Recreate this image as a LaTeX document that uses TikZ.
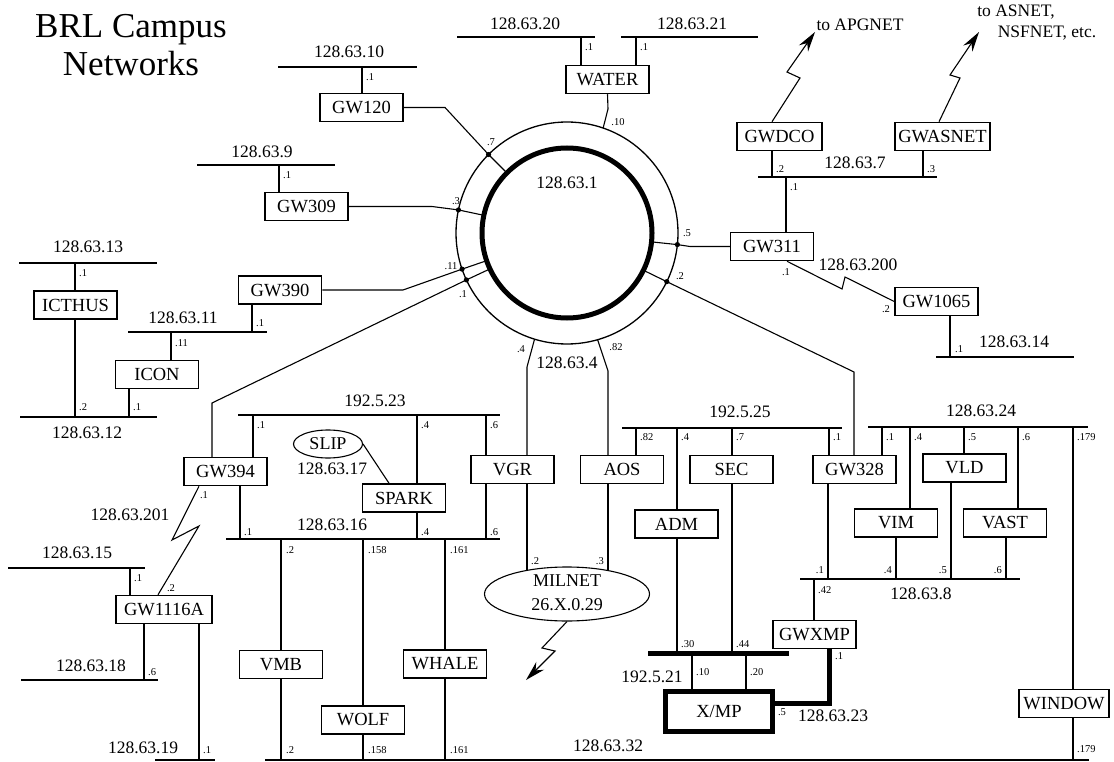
\documentclass[tikz,border=0pt]{standalone}
\usepackage{fontspec}
\setmainfont{Liberation Serif}
\usetikzlibrary{shapes.geometric, arrows.meta, calc}

\newcommand{\setfs}[1]{\fontsize{#1}{#1}\selectfont}

\begin{document}
\begin{tikzpicture}[x=1pt, y=-1pt,
    host/.style={draw, line width=1.5pt, minimum width=83pt, minimum height=28pt, inner sep=0pt, font=\setfs{18.5}},
    bus/.style={line width=2pt},
    link/.style={line width=1.1pt},
    fat/.style={line width=5pt},
    net/.style={font=\setfs{17.5}, inner sep=0pt},
    addr/.style={font=\setfs{10.5}, inner sep=0pt},
    zap/.style={line width=1.1pt, -{Stealth[length=20pt, width=11pt]}}]
    \fill[white] (0,0) rectangle (1114,762);
    \useasboundingbox (0,0) rectangle (1114,762);

    % Title
    \node[font=\fontsize{35}{38}\selectfont, align=center, inner sep=0pt] (title) at (131,45) {BRL Campus\\Networks};

    % Backbone ring 128.63.1
    \node[circle, draw, line width=1.3pt, minimum size=222pt, inner sep=0pt, outer sep=0pt] (ring) at (567,233) {};
    \node[circle, draw, line width=5pt, minimum size=170pt, inner sep=0pt, outer sep=0pt] (core) at (567,233) {};
    \node[net] (t1) at (567,183) {128.63.1};
    \node[net] (t4) at (567,363) {128.63.4};

    % Hosts and gateways
    \node[host] (gw120) at (361.5,107.5) {GW120};
    \node[host] (gw309) at (306.5,206.5) {GW309};
    \node[host] (water) at (607.5,79.5) {WATER};
    \node[host, minimum width=85pt] (gwdco) at (779.5,136.5) {GWDCO};
    \node[host, minimum width=95pt] (gwasnet) at (942.5,136.5) {GWASNET};
    \node[host] (gw311) at (772,246.5) {GW311};
    \node[host] (gw1065) at (936.5,301.5) {GW1065};
    \node[host] (icthus) at (75.5,305) {ICTHUS};
    \node[host] (icon) at (157,374.5) {ICON};
    \node[host] (gw390) at (280,290) {GW390};
    \node[host] (gw394) at (225.5,471.5) {GW394};
    \node[host] (spark) at (404,498) {SPARK};
    \node[host] (vgr) at (512.5,469.5) {VGR};
    \node[host] (aos) at (622,469.5) {AOS};
    \node[host] (sec) at (731.5,469.5) {SEC};
    \node[host] (adm) at (676.5,524) {ADM};
    \node[host] (gw328) at (854.5,469.5) {GW328};
    \node[host] (vld) at (964.5,468) {VLD};
    \node[host] (vim) at (896,523) {VIM};
    \node[host] (vast) at (1005,523) {VAST};
    \node[host, minimum width=90pt] (window) at (1064,703.5) {WINDOW};
    \node[host] (gwxmp) at (814.5,634.5) {GWXMP};
    \node[host, line width=5pt, minimum width=107pt, minimum height=40pt] (xmp) at (719,711) {X/MP};
    \node[host, minimum width=96pt] (gw1116a) at (164,609.5) {GW1116A};
    \node[host] (vmb) at (281,664.5) {VMB};
    \node[host] (wolf) at (363,720) {WOLF};
    \node[host] (whale) at (445,664) {WHALE};
    \node[ellipse, draw, line width=1.1pt, minimum width=69pt, minimum height=28pt, inner sep=0pt, font=\setfs{18}] (slip) at (328,444) {SLIP};
    \node[ellipse, draw, line width=1.1pt, minimum width=165pt, minimum height=54pt, inner sep=0pt] (milnet) at (567,594) {};
    \node[font=\fontsize{18}{24}\selectfont, align=center, inner sep=0pt] (miltxt) at (567,593) {MILNET\\26.X.0.29};

    % Taps on the ring
    \draw[link] (core.135) -- (ring.135) -- (445,0 |- gw120.east) -- (gw120.east);
    \draw[link] (core.168) -- (ring.168) -- (432,0 |- gw309.east) -- (gw309.east);
    \draw[link] (core.199) -- (ring.199) -- (403,0 |- gw390.east) -- (gw390.east);
    \draw[link] (core.205) -- (ring.205) -- (212,403) -- (212,0 |- gw394.north);
    \draw[link] (core.334) -- (ring.334) -- (854,372) -- (854,0 |- gw328.north);
    \draw[link] (core.354) -- (ring.354) -- (690,0 |- gw311.west) -- (gw311.west);
    \draw[link] (water.south) -- (608,109) -- (ring.71);
    \draw[link] (ring.253) -- (527,367) -- (527,0 |- vgr.north);
    \draw[link] (ring.286) -- (608,371) -- (608,0 |- aos.north);
    \foreach \a in {135,168,199,205,334,354} \fill (ring.\a) circle (2.6pt);
    \node[addr] (r7) at (491,142) {.7};
    \node[addr] (r3) at (456,201) {.3};
    \node[addr] (r10) at (618,122) {.10};
    \node[addr] (r5) at (687,233) {.5};
    \node[addr] (r11) at (451,266) {.11};
    \node[addr] (r1) at (463,294) {.1};
    \node[addr] (r2) at (680,276) {.2};
    \node[addr] (r4) at (521,349) {.4};
    \node[addr] (r82) at (616,347) {.82};

    % 128.63.10, 128.63.9
    \draw[bus] (278,67) -- (417,67);
    \node[net] (t10) at (349,52) {128.63.10};
    \draw[link] (362,67) -- (362,0 |- gw120.north);
    \node[addr, anchor=west] (a10) at (366,77) {.1};
    \draw[bus] (197,165) -- (335,165);
    \node[net] (t9) at (262,152) {128.63.9};
    \draw[link] (279,165) -- (279,0 |- gw309.north);
    \node[addr, anchor=west] (a9) at (283,175) {.1};

    % 128.63.20, 128.63.21
    \draw[bus] (457,37) -- (595,37);
    \node[net] (t20) at (525,24) {128.63.20};
    \draw[bus] (621,37) -- (758,37);
    \node[net] (t21) at (692,24) {128.63.21};
    \draw[link] (581,37) -- (581,0 |- water.north);
    \draw[link] (636,37) -- (636,0 |- water.north);
    \node[addr, anchor=west] (a20) at (585,47) {.1};
    \node[addr, anchor=west] (a21) at (640,47) {.1};

    % 128.63.7 and the outside links
    \draw[bus] (758,177) -- (937,177);
    \node[net] (t7) at (855,163) {128.63.7};
    \draw[link] (772,0 |- gwdco.south) -- (772,177);
    \draw[link] (923,0 |- gwasnet.south) -- (923,177);
    \draw[link] (786,177) -- (786,0 |- gw311.north);
    \node[addr, anchor=west] (a7a) at (776,169) {.2};
    \node[addr, anchor=west] (a7b) at (927,169) {.3};
    \node[addr, anchor=west] (a7c) at (790,187) {.1};
    \draw[zap] (772,0 |- gwdco.north) -- (800,78) -- (787,72) -- (815,32);
    \draw[zap] (939,0 |- gwasnet.north) -- (960,78) -- (950,75) -- (979,32);
    \node[net] (apg) at (860,25) {to APGNET};
    \node[net] (asn) at (1016,12) {to ASNET,};
    \node[net] (nsf) at (1047,33) {NSFNET, etc.};

    % 128.63.200, 128.63.14
    \draw[link] (787,0 |- gw311.south) -- (842,289) -- (845,277) -- (gw1065.west);
    \node[net] (t200) at (858,265) {128.63.200};
    \node[addr] (b1) at (786,272) {.1};
    \node[addr] (b2) at (886,309) {.2};
    \draw[bus] (936,357) -- (1074,357);
    \node[net] (t14) at (1014,342) {128.63.14};
    \draw[link] (950,0 |- gw1065.south) -- (950,357);
    \node[addr, anchor=west] (a14) at (955,349) {.1};

    % 128.63.13, 128.63.12, 128.63.11
    \draw[bus] (19,263) -- (157,263);
    \node[net] (t13) at (88,247) {128.63.13};
    \draw[link] (75,263) -- (75,0 |- icthus.north);
    \node[addr, anchor=west] (a13) at (79,273) {.1};
    \draw[bus] (20,417) -- (157,417);
    \node[net] (t12) at (87,433) {128.63.12};
    \draw[link] (75,0 |- icthus.south) -- (75,417);
    \draw[link] (129,0 |- icon.south) -- (129,417);
    \node[addr, anchor=west] (a12a) at (79,407) {.2};
    \node[addr, anchor=west] (a12b) at (133,407) {.1};
    \draw[bus] (128,332) -- (267,332);
    \node[net] (t11) at (183,318) {128.63.11};
    \draw[link] (171,332) -- (171,0 |- icon.north);
    \draw[link] (252,0 |- gw390.south) -- (252,332);
    \node[addr, anchor=west] (a11a) at (175,343) {.11};
    \node[addr, anchor=west] (a11b) at (256,323) {.1};

    % 192.5.23 and 128.63.16
    \draw[bus] (238,415) -- (500,415);
    \node[net] (t23) at (375,401) {192.5.23};
    \foreach \x/\n/\t in {253/gw394/.1, 417/spark/.4, 486/vgr/.6} {
        \draw[link] (\x,415) -- (\x,0 |- \n.north);
        \node[addr, anchor=west] (u\x) at (\x+4,425) {\t};
    }
    \draw[link] (slip.east) -- (389,0 |- spark.north);
    \node[net] (t17) at (332,469) {128.63.17};
    \draw[bus] (226,539) -- (500,539);
    \node[net] (t16) at (332,525) {128.63.16};
    \foreach \x/\n/\t in {240/gw394/.1, 417/spark/.4, 486/vgr/.6} {
        \draw[link] (\x,0 |- \n.south) -- (\x,539);
        \node[addr, anchor=west] (v\x) at (\x+4,532) {\t};
    }
    \foreach \x/\n/\t in {281/vmb/.2, 363/wolf/.158, 445/whale/.161} {
        \draw[link] (\x,539) -- (\n) -- (\x,760);
        \node[addr, anchor=west] (w\x) at (\x+5,550) {\t};
        \node[addr, anchor=west] (z\x) at (\x+5,750) {\t};
    }

    % 128.63.201 and GW1116A
    \draw[link] (199,0 |- gw394.south) -- (172,540) -- (199,526) -- (158,0 |- gw1116a.north);
    \node[net] (t201) at (130,515) {128.63.201};
    \node[addr] (c1) at (204,495) {.1};
    \node[addr] (c2) at (171,588) {.2};
    \draw[bus] (8,568) -- (145,568);
    \node[net] (t15) at (77,553) {128.63.15};
    \draw[link] (130,568) -- (130,0 |- gw1116a.north);
    \node[addr, anchor=west] (f15) at (134,578) {.1};
    \draw[bus] (21,680) -- (158,680);
    \node[net] (t18) at (91,666) {128.63.18};
    \draw[link] (144,0 |- gw1116a.south) -- (144,680);
    \node[addr, anchor=west] (f18) at (148,672) {.6};
    \draw[bus] (155,760) -- (215,760);
    \node[net] (t19) at (143,748) {128.63.19};
    \draw[link] (199,0 |- gw1116a.south) -- (199,760);
    \node[addr, anchor=west] (f19) at (203,750) {.1};

    % MILNET
    \draw[link] (527,0 |- vgr.south) -- (527,0 |- milnet.149);
    \draw[link] (608,0 |- aos.south) -- (608,0 |- milnet.31);
    \node[addr, anchor=west] (m2) at (531,561) {.2};
    \node[addr, anchor=east] (m3) at (604,561) {.3};
    \draw[zap] (milnet.south) -- (542,648) -- (555,651) -- (526,680);

    % 192.5.25
    \draw[bus] (622,428) -- (842,428);
    \node[net] (t25) at (740,412) {192.5.25};
    \foreach \x/\n/\t in {636/aos/.82, 677/adm/.4, 732/sec/.7, 829/gw328/.1} {
        \draw[link] (\x,428) -- (\x,0 |- \n.north);
        \node[addr, anchor=west] (s\x) at (\x+4,437) {\t};
    }

    % 128.63.24
    \draw[bus] (868,427) -- (1088,427);
    \node[net] (t24) at (981,411) {128.63.24};
    \foreach \x/\n/\t in {882/gw328/.1, 910/vim/.4, 964/vld/.5, 1018/vast/.6, 1073/window/.179} {
        \draw[link] (\x,427) -- (\x,0 |- \n.north);
        \node[addr, anchor=west] (k\x) at (\x+4,437) {\t};
    }
    \draw[link] (1073,0 |- window.south) -- (1073,760);
    \node[addr, anchor=west] (k179) at (1077,749) {.179};

    % 128.63.8
    \draw[bus] (800,579) -- (1020,579);
    \node[net] (t8) at (921,594) {128.63.8};
    \foreach \x/\n/\t in {828/gw328/.1, 896/vim/.4, 951/vld/.5, 1006/vast/.6} {
        \draw[link] (\x,0 |- \n.south) -- (\x,579);
        \node[addr, anchor=east] (p\x) at (\x-4,570) {\t};
    }
    \draw[link] (814,579) -- (814,0 |- gwxmp.north);
    \node[addr, anchor=west] (p42) at (818,590) {.42};

    % 192.5.21 and 128.63.23
    \draw[fat] (648,653) -- (789,653);
    \node[net] (t21b) at (652,677) {192.5.21};
    \draw[link] (677,0 |- adm.south) -- (677,653);
    \draw[link] (732,0 |- sec.south) -- (732,653);
    \node[addr, anchor=west] (q30) at (681,644) {.30};
    \node[addr, anchor=west] (q44) at (736,644) {.44};
    \draw[link] (692,653) -- (692,0 |- xmp.north);
    \draw[link] (746,653) -- (746,0 |- xmp.north);
    \node[addr, anchor=west] (q10) at (696,672) {.10};
    \node[addr, anchor=west] (q20) at (750,672) {.20};
    \draw[fat] (829,0 |- gwxmp.south) -- (829,703) -- (xmp.east |- 0,703);
    \node[addr, anchor=west] (g1) at (835,656) {.1};
    \node[addr] (g5) at (782,712) {.5};
    \node[net] (t23b) at (833,716) {128.63.23};

    % 128.63.32
    \draw[bus] (265,760) -- (1089,760);
    \node[net] (t32) at (608,746) {128.63.32};
\end{tikzpicture}
\end{document}
